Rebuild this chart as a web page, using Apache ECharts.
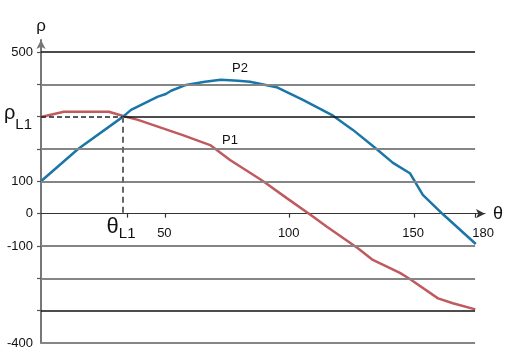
<!DOCTYPE html>
<html><head><meta charset="utf-8">
<script src="https://cdn.jsdelivr.net/npm/echarts@6/dist/echarts.min.js"></script>
<style>html,body{margin:0;padding:0;background:#fff}#c{width:510px;height:355px}</style>
</head><body><div id="c"></div>
<script>
const FONT = '"Liberation Sans", Arial, sans-serif';

// curve P1 (red)
const p1Theta = [0, 9.2, 27.3, 33, 39, 57, 68, 76, 89.2, 98.8, 109.3, 114.8, 127.4, 133.4, 144.3, 148.3, 159.6, 165.6, 174.6];
const p1Rho   = [299, 315, 315, 302, 290, 243, 212, 166, 101, 48, -9, -40, -107, -143, -183, -202, -262, -277, -296];

// curve P2 (blue)
const p2Theta = [0, 14.9, 33, 36.2, 47, 50.2, 52.3, 58.3, 65.9, 72.3, 79.2, 84, 94.7, 105.3, 117.4, 125.4, 134.9, 141.5, 148.3, 153.5, 161.6, 174.8];
const p2Rho   = [100, 200, 300, 321, 362, 370, 380, 398, 408, 414, 411, 408, 391, 352, 303, 259, 200, 157, 125, 58, -2, -94];

// axes
const yLabelValues = [500, 100, 0, -100, -400];
const yTickValues = [500, 400, 300, 200, 100, 0, -100, -200, -300];
const xTickValues = [34.5, 50, 100, 150, 174.5];
const xLabelValues = [50, 100, 150, 174.5];
const xLabelTexts = ['50', '100', '150', '180'];

// horizontal grid lines
const gridValues = [500, 400, 300, 200, 100, -100, -200, -300, -400];
const gridDark   = [true, false, true, false, false, false, false, true, false];

const thetaL1 = 33, rhoL1 = 300;
const xEnd = 174.5;

const zip = (a, b) => a.map((v, i) => [v, b[i]]);

const gridLines = gridValues.map((v, i) => [
  { coord: [v === rhoL1 ? thetaL1 : 0, v],
    lineStyle: gridDark[i] ? { color: '#111', width: 1.5, type: 'solid' } : { color: '#858585', width: 2, type: 'solid' } },
  { coord: [xEnd, v] }
]);
gridLines.push([
  { coord: [0, rhoL1], lineStyle: { color: '#222', width: 1.5, type: [5, 3] } },
  { coord: [thetaL1, rhoL1] }
]);
gridLines.push([
  { coord: [thetaL1, rhoL1], lineStyle: { color: '#666', width: 2, type: [6, 4] } },
  { coord: [thetaL1, 0] }
]);

const txt = { color: '#111', fontFamily: FONT };
const xLabelPoints = xLabelValues.map((v, i) => ({
  coord: [v, 0],
  label: { show: true, position: 'inside', offset: [i === xLabelValues.length - 1 ? 8 : -1, 20], formatter: xLabelTexts[i], fontSize: 13, ...txt }
}));

const chart = echarts.init(document.getElementById('c'), null, { renderer: 'canvas' });
chart.setOption({
  animation: false,
  backgroundColor: '#fff',
  grid: { left: 41, right: 25, top: 40, bottom: 12, containLabel: false, outerBoundsMode: 'none' },
  xAxis: {
    type: 'value', min: 0, max: 178.5,
    name: 'θ', nameLocation: 'end', nameGap: 8,
    nameTextStyle: { fontSize: 18, verticalAlign: 'middle', ...txt },
    axisLine: { onZero: true, lineStyle: { color: '#333', width: 1.2 }, symbol: ['none', 'arrow'], symbolSize: [7, 9] },
    axisTick: { show: true, customValues: xTickValues, length: 4, lineStyle: { color: '#333', width: 1.2 } },
    axisLabel: { show: false },
    splitLine: { show: false }
  },
  yAxis: {
    type: 'value', min: -400, max: 537,
    name: 'ρ', nameLocation: 'end', nameGap: 5,
    nameTextStyle: { fontSize: 17, ...txt },
    axisLine: { show: true, onZero: false, lineStyle: { color: '#777', width: 2 }, symbol: ['none', 'arrow'], symbolSize: [7, 9] },
    axisTick: { show: true, customValues: yTickValues, length: 4, lineStyle: { color: '#555', width: 1.2 } },
    axisLabel: { customValues: yLabelValues, margin: 8, fontSize: 13, ...txt },
    splitLine: { show: false }
  },
  series: [
    {
      type: 'line', data: [], z: 1, silent: true,
      markLine: { silent: true, symbol: ['none', 'none'], label: { show: false }, data: gridLines, animation: false },
      markPoint: {
        silent: true, symbol: 'circle', symbolSize: 0, animation: false,
        data: [
          { coord: [thetaL1, 0], label: { show: true, position: 'inside', offset: [-2, 13], formatter: '{t|θ}{s|L1}',
              rich: { t: { fontSize: 22, ...txt }, s: { fontSize: 15, padding: [14, 0, 0, 0], ...txt } } } },
          { coord: [0, rhoL1], label: { show: true, position: 'inside', align: 'right', offset: [-9, -3], formatter: '{t|ρ}{s|L1}',
              rich: { t: { fontSize: 20, ...txt }, s: { fontSize: 15, padding: [22, 0, 0, 0], ...txt } } } },
          { coord: [80, 450], label: { show: true, position: 'inside', formatter: 'P2', fontSize: 13, ...txt } },
          { coord: [76, 228], label: { show: true, position: 'inside', formatter: 'P1', fontSize: 13, ...txt } },
          ...xLabelPoints
        ]
      }
    },
    {
      name: 'P1', type: 'line', data: zip(p1Theta, p1Rho), z: 3, showSymbol: false, smooth: false,
      lineStyle: { color: '#bf5a5e', width: 2.5 }, itemStyle: { color: '#bf5a5e' }
    },
    {
      name: 'P2', type: 'line', data: zip(p2Theta, p2Rho), z: 4, showSymbol: false, smooth: false,
      lineStyle: { color: '#1b76a8', width: 2.5 }, itemStyle: { color: '#1b76a8' }
    }
  ]
});
</script>
</body></html>
